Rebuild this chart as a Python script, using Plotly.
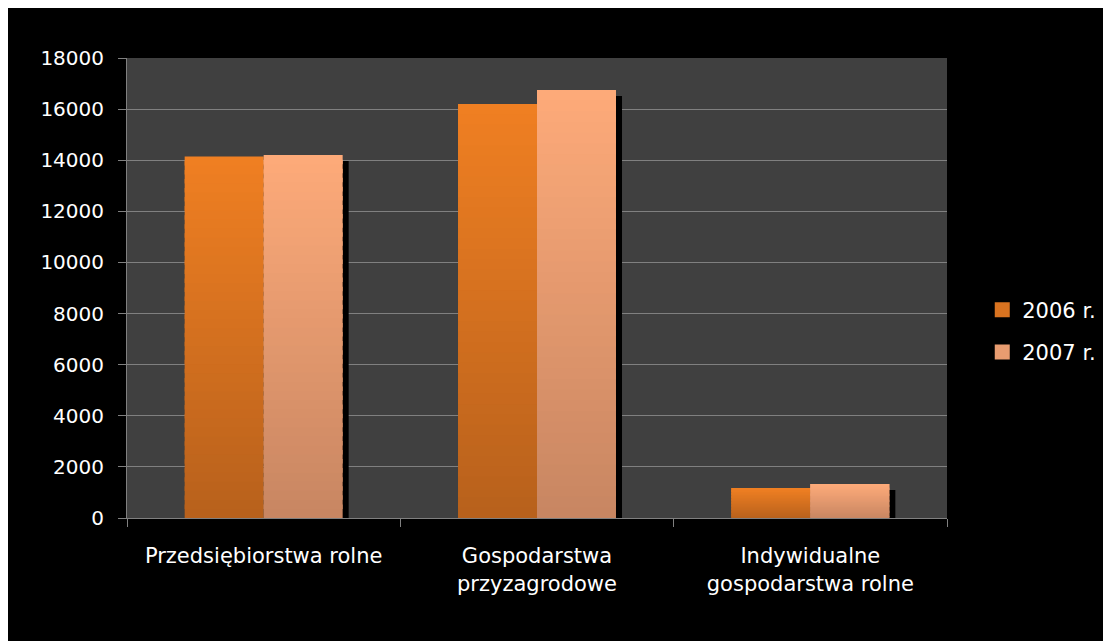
import plotly.graph_objects as go

# ---- data ----
categories = ["Przedsiębiorstwa rolne", "Gospodarstwa<br>przyzagrodowe", "Indywidualne<br>gospodarstwa rolne"]
series_names = ["2006 r.", "2007 r."]
values_2006 = [14150, 16200, 1170]
values_2007 = [14200, 16750, 1330]
y_tick_values = [0, 2000, 4000, 6000, 8000, 10000, 12000, 14000, 16000, 18000]

# ---- style ----
FONT = "DejaVu Sans"
N_SEG = 40
BAR_W = 0.289
SHADOW_DX = 0.022
SHADOW_DY = 235  # ~6px in data units
TOP_2006, BOT_2006 = (239, 127, 34), (184, 97, 28)
TOP_2007, BOT_2007 = (253, 170, 121), (200, 134, 98)

def lerp(a, b, t):
    return tuple(round(a[k] + (b[k] - a[k]) * t) for k in range(3))

def gradient_bar(values, top_rgb, bot_rgb, offset):
    xs, ys, bases, cols = [], [], [], []
    for c, v in zip(categories, values):
        seg = v / N_SEG
        for i in range(N_SEG):  # bottom to top, each overlaps upward slightly
            frac = i / (N_SEG - 1)
            r, g, b = lerp(bot_rgb, top_rgb, frac)
            xs.append(c)
            ys.append(seg * 1.5 if i < N_SEG - 1 else seg)
            bases.append(seg * i)
            cols.append(f"rgb({r},{g},{b})")
    return go.Bar(x=xs, y=ys, base=bases, offset=offset, width=BAR_W,
                  marker=dict(color=cols, line=dict(width=0)),
                  showlegend=False, hoverinfo="skip")

def legend_entry(name, top_rgb, bot_rgb):
    r, g, b = lerp(bot_rgb, top_rgb, 0.6)
    return go.Scatter(x=[None], y=[None], name=name, mode="markers",
                      marker=dict(symbol="square", size=15,
                                  color=f"rgb({r},{g},{b})", line=dict(width=0)),
                      legendgroup=name, showlegend=True)

fig = go.Figure()

# drop shadow of the 2007 bars
fig.add_trace(go.Bar(x=categories, y=[v - SHADOW_DY for v in values_2007],
                     offset=SHADOW_DX, width=BAR_W,
                     marker=dict(color="black", line=dict(width=0)),
                     showlegend=False, hoverinfo="skip"))

fig.add_trace(gradient_bar(values_2006, TOP_2006, BOT_2006, -BAR_W))
fig.add_trace(gradient_bar(values_2007, TOP_2007, BOT_2007, 0))
fig.add_trace(legend_entry(series_names[0], TOP_2006, BOT_2006))
fig.add_trace(legend_entry(series_names[1], TOP_2007, BOT_2007))

fig.update_layout(
    width=1103, height=633,
    barmode="overlay",
    paper_bgcolor="black",
    plot_bgcolor="#404040",
    margin=dict(l=119, r=164, t=50, b=123, autoexpand=False),
    font=dict(family=FONT, color="white", size=20),
    showlegend=True,
    legend=dict(x=1.043, xanchor="left", y=0.4065, yanchor="middle",
                font=dict(size=21, color="white", family=FONT), tracegroupgap=12,
                bgcolor="rgba(0,0,0,0)", itemwidth=30),
)

fig.update_xaxes(
    type="category", categoryorder="array", categoryarray=categories,
    showline=True, linecolor="#808080", linewidth=1,
    ticks="outside", tickson="boundaries", ticklen=8, tickcolor="#808080",
    showgrid=False, tickfont=dict(size=21, color="white", family=FONT),
    ticklabelstandoff=19,
)
fig.update_yaxes(
    range=[0, 18000], tickvals=y_tick_values, tickformat="d",
    showline=True, linecolor="#808080", linewidth=1,
    ticks="outside", ticklen=8, tickcolor="#808080",
    showgrid=True, gridcolor="#808080", gridwidth=1, zeroline=False,
    tickfont=dict(size=20, color="white", family=FONT),
    ticklabelstandoff=10,
)

fig.write_html("out.html")
